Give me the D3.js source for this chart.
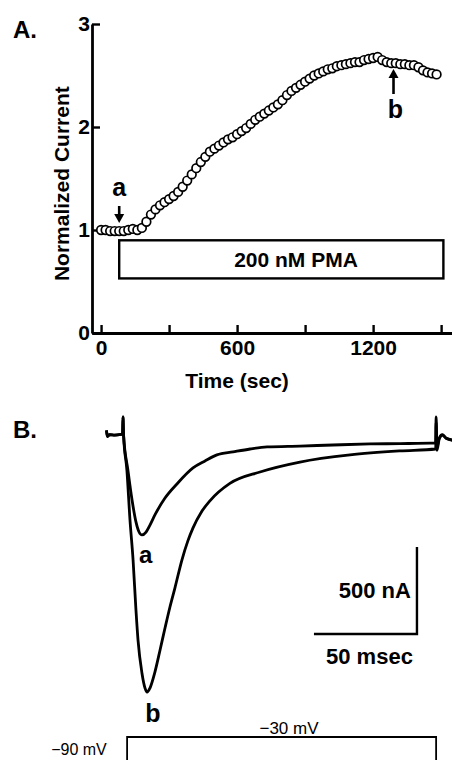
<!DOCTYPE html>
<html>
<head>
<meta charset="utf-8">
<script src="https://cdn.jsdelivr.net/npm/d3@7"></script>
<style>
body { margin: 0; background: #fff; }
text { font-family: "Liberation Sans", Arial, sans-serif; fill: #000; }
</style>
</head>
<body>
<div id="chart"></div>
<script>

// ---- panel A: normalized current vs time ----
const sampleTimes = [0, 20, 40, 60, 80, 100, 120, 140, 160, 180, 200, 220, 240, 260, 280,
	300, 320, 340, 360, 380, 400, 420, 440, 460, 480, 500, 520, 540, 560, 580,
	600, 620, 640, 660, 680, 700, 720, 740, 760, 780, 800, 820, 840, 860, 880,
	900, 920, 940, 960, 980, 1000, 1020, 1040, 1060, 1080, 1100, 1120, 1140, 1160, 1180,
	1200, 1220, 1240, 1260, 1280, 1300, 1320, 1340, 1360, 1380, 1400, 1420, 1440, 1460, 1480];
const normCurrent = [1.00, 1.00, 0.99, 0.99, 0.99, 0.99, 1.00, 1.01, 1.00, 1.02, 1.08, 1.15, 1.20, 1.24, 1.27,
	1.30, 1.33, 1.37, 1.42, 1.48, 1.54, 1.60, 1.66, 1.71, 1.76, 1.79, 1.82, 1.85, 1.88, 1.90,
	1.93, 1.96, 1.99, 2.03, 2.07, 2.10, 2.13, 2.16, 2.19, 2.22, 2.26, 2.31, 2.35, 2.38, 2.41,
	2.44, 2.47, 2.50, 2.52, 2.54, 2.56, 2.57, 2.59, 2.60, 2.61, 2.62, 2.63, 2.63, 2.65, 2.66,
	2.67, 2.68, 2.65, 2.63, 2.62, 2.62, 2.61, 2.61, 2.60, 2.60, 2.58, 2.55, 2.53, 2.52, 2.51];
const xTicksA = [0, 300, 600, 900, 1200, 1500];
const xLabelsA = [0, 600, 1200];
const yTicksA = [0, 1, 2, 3];
const pmaTimes = [80, 1510];        // bath application of PMA (sec)
const markA = { label: "a", t: 80 };
const markB = { label: "b", t: 1290 };

// ---- panel B: current traces (ms, nA) ----
const traceA = [[-8, 15], [-7.6, -20], [-6.5, -10], [-4, -12], [-1, -8], [-0.2, -6], [0, 92], [0.3, -15],
	[2.4, -213], [4.4, -385], [6.3, -511], [7.8, -569], [9.2, -586], [11.2, -569], [13.1, -529],
	[15.5, -471], [20.4, -374], [26.2, -293], [34, -201], [39.8, -161], [45.6, -126], [53.4, -109],
	[61.7, -92], [69.9, -80], [85.9, -75], [101.9, -69], [119.9, -63], [134.5, -61], [151.8, -57],
	[152, 92], [152.4, -80], [153.5, -30], [155, -10], [157, -30], [160, -40]];
const traceB = [[-8, 15], [-7.6, -20], [-6.5, -10], [-4, -12], [-1, -8], [-0.2, -6], [0, 92], [0.3, -15],
	[1.9, -213], [3.4, -500], [4.9, -730], [6.3, -1017], [7.3, -1190], [9.2, -1379], [10.7, -1466],
	[11.7, -1489], [13.1, -1466], [15.5, -1374], [18, -1247], [20.4, -1121], [22.8, -1000],
	[25.2, -891], [28.6, -730], [31.5, -620], [34, -545], [38, -455], [42.2, -390], [51.9, -290],
	[66.5, -224], [85.9, -167], [110.2, -126], [134.5, -103], [151.8, -92], [152, 60], [152.4, -100],
	[153.5, -35], [155, -12], [157, -32], [160, -42]];
const stepTimes = [2, 152];          // voltage step, ms
const holdV = -90, testV = -30;

const width = 452, height = 760;

const svg = d3.select("#chart").append("svg")
	.attr("width", width)
	.attr("height", height);

// ========== Panel A ==========
const xA = d3.scaleLinear().domain([-40, 1548]).range([92, 452]);
const yA = d3.scaleLinear().domain([0, 3]).range([333, 24]);

const gA = svg.append("g");

const xAxis = gA.append("g")
	.attr("transform", `translate(0, ${yA(0)})`)
	.call(d3.axisBottom(xA)
		.tickValues(xTicksA)
		.tickSize(-8)
		.tickSizeOuter(0)
		.tickPadding(7)
		.tickFormat((d) => xLabelsA.includes(d) ? d : ""));

const yAxis = gA.append("g")
	.attr("transform", `translate(${xA.range()[0]}, 0)`)
	.call(d3.axisLeft(yA)
		.tickValues(yTicksA)
		.tickSize(-8)
		.tickSizeOuter(0)
		.tickPadding(2)
		.tickFormat(d3.format("d")));

[xAxis, yAxis].forEach((ax) => {
	ax.select(".domain").attr("stroke-width", 2.8);
	ax.selectAll(".tick line").attr("stroke-width", 2.4);
	ax.selectAll(".tick text")
		.style("font-size", "21px")
		.style("font-weight", "bold")
		.style("font-family", "'Liberation Sans', Arial, sans-serif");
});

gA.append("text")
	.attr("x", xA(600))
	.attr("y", 388)
	.attr("text-anchor", "middle")
	.style("font-size", "21px")
	.style("font-weight", "bold")
	.text("Time (sec)");

gA.append("text")
	.attr("transform", `translate(69, ${yA(1.45)}) rotate(-90)`)
	.attr("text-anchor", "middle")
	.style("font-size", "21px")
	.style("font-weight", "bold")
	.text("Normalized Current");

gA.append("text")
	.attr("x", 13).attr("y", 38)
	.style("font-size", "24px")
	.style("font-weight", "bold")
	.text("A.");

// PMA bar
gA.append("rect")
	.attr("x", xA(pmaTimes[0]))
	.attr("y", yA(0.9))
	.attr("width", xA(pmaTimes[1]) - xA(pmaTimes[0]))
	.attr("height", yA(0.53) - yA(0.9))
	.attr("fill", "none")
	.attr("stroke", "#000")
	.attr("stroke-width", 2.4);

gA.append("text")
	.attr("x", xA(860))
	.attr("y", yA(0.715) + 8)
	.attr("text-anchor", "middle")
	.style("font-size", "21px")
	.style("font-weight", "bold")
	.text("200 nM PMA");

// data circles
gA.append("g").selectAll("circle").data(sampleTimes).enter()
	.append("circle")
	.attr("cx", (d) => xA(d))
	.attr("cy", (d, i) => yA(normCurrent[i]))
	.attr("r", 4.3)
	.attr("fill", "#fff")
	.attr("stroke", "#000")
	.attr("stroke-width", 1.7);

// arrows a (pointing down) and b (pointing up)
function arrow(g, x, y1, y2) {
	const dir = y2 > y1 ? 1 : -1;
	g.append("line")
		.attr("x1", x).attr("x2", x)
		.attr("y1", y1).attr("y2", y2 - dir * 6)
		.attr("stroke", "#000").attr("stroke-width", 2.6);
	g.append("path")
		.attr("d", `M${x - 5},${y2 - dir * 9} L${x + 5},${y2 - dir * 9} L${x},${y2} Z`)
		.attr("fill", "#000");
}
arrow(gA, xA(markA.t), 206, 223);
gA.append("text")
	.attr("x", xA(markA.t)).attr("y", 196)
	.attr("text-anchor", "middle")
	.style("font-size", "25px").style("font-weight", "bold")
	.text(markA.label);

arrow(gA, xA(markB.t), 94, 69);
gA.append("text")
	.attr("x", xA(markB.t) + 2).attr("y", 118)
	.attr("text-anchor", "middle")
	.style("font-size", "25px").style("font-weight", "bold")
	.text(markB.label);

// ========== Panel B ==========
const xB = d3.scaleLinear().domain([-8, 160]).range([106.5, 452.6]);
const yB = d3.scaleLinear().domain([-1600, 200]).range([711.4, 398.2]);
const vB = d3.scaleLinear().domain([holdV, testV]).range([775, 737]);

const gB = svg.append("g");

gB.append("text")
	.attr("x", 13).attr("y", 438)
	.style("font-size", "24px")
	.style("font-weight", "bold")
	.text("B.");

const makeTrace = d3.line()
	.x((d) => xB(d[0]))
	.y((d) => yB(d[1]))
	.curve(d3.curveMonotoneX);

gB.append("g").selectAll("path").data([traceA, traceB]).enter()
	.append("path")
	.attr("d", (d) => makeTrace(d))
	.attr("fill", "none")
	.attr("stroke", "#000")
	.attr("stroke-width", 2.8)
	.attr("stroke-linejoin", "round");

gB.append("text")
	.attr("x", xB(11)).attr("y", 563)
	.attr("text-anchor", "middle")
	.style("font-size", "24px").style("font-weight", "bold")
	.text("a");

gB.append("text")
	.attr("x", xB(14.5)).attr("y", 722)
	.attr("text-anchor", "middle")
	.style("font-size", "25px").style("font-weight", "bold")
	.text("b");

// scale bar: 50 ms x 500 nA
const barT = 142.7, barI = -1155;
gB.append("path")
	.attr("d", `M${xB(barT - 50)},${yB(barI)} L${xB(barT)},${yB(barI)} L${xB(barT)},${yB(barI + 500)}`)
	.attr("fill", "none")
	.attr("stroke", "#000")
	.attr("stroke-width", 2.4);

gB.append("text")
	.attr("x", xB(barT) - 6).attr("y", 598)
	.attr("text-anchor", "end")
	.style("font-size", "22px").style("font-weight", "bold")
	.text("500 nA");

gB.append("text")
	.attr("x", xB(barT - 25) + 4).attr("y", 664)
	.attr("text-anchor", "middle")
	.style("font-size", "22px").style("font-weight", "bold")
	.text("50 msec");

// voltage protocol
gB.append("path")
	.attr("d", `M${xB(-8)},${vB(holdV)} L${xB(stepTimes[0])},${vB(holdV)} L${xB(stepTimes[0])},${vB(testV)}` +
		` L${xB(stepTimes[1])},${vB(testV)} L${xB(stepTimes[1])},${vB(holdV)} L${xB(160)},${vB(holdV)}`)
	.attr("fill", "none")
	.attr("stroke", "#000")
	.attr("stroke-width", 1.8);

gB.append("text")
	.attr("x", 289).attr("y", 734)
	.attr("text-anchor", "middle")
	.style("font-size", "17px")
	.text("\u221230 mV");

gB.append("text")
	.attr("x", 79).attr("y", 755)
	.attr("text-anchor", "middle")
	.style("font-size", "16px")
	.text("\u221290 mV");

</script>
</body>
</html>
